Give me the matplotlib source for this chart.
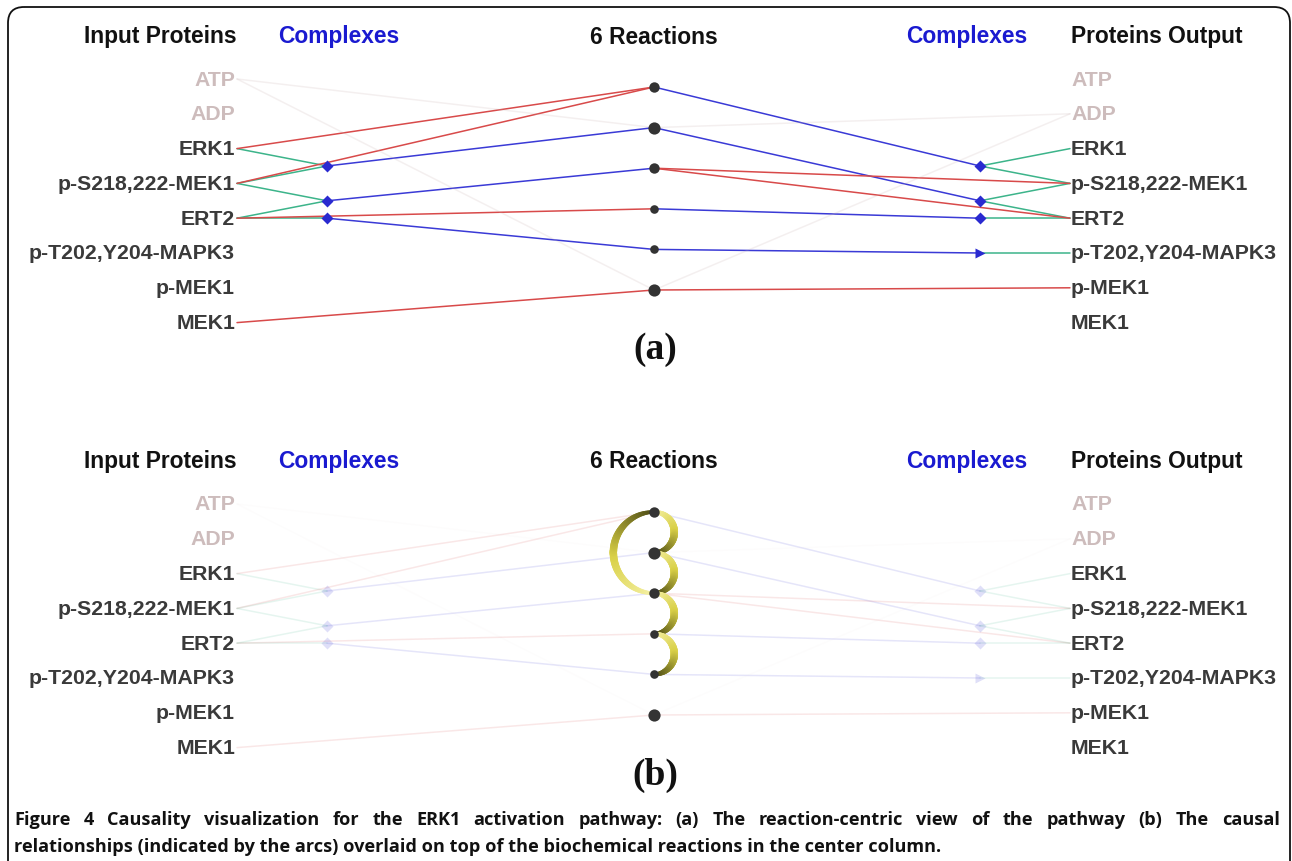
import numpy as np
import matplotlib.pyplot as plt
from matplotlib.collections import LineCollection
from matplotlib.patches import FancyBboxPatch
from matplotlib.colors import LinearSegmentedColormap

# --- data -------------------------------------------------------------
proteins = ["ATP", "ADP", "ERK1", "p-S218,222-MEK1", "ERT2",
            "p-T202,Y204-MAPK3", "p-MEK1", "MEK1"]
small_molecules = ["ATP", "ADP"]
headers = ["Input Proteins", "Complexes", "6 Reactions", "Complexes", "Proteins Output"]
panel_tags = ["(a)", "(b)"]

# complexes: member proteins
left_complexes = [["ERK1", "p-S218,222-MEK1"], ["p-S218,222-MEK1", "ERT2"], ["ERT2"]]
right_complexes = [["ERK1", "p-S218,222-MEK1"], ["p-S218,222-MEK1", "ERT2"], ["ERT2"],
                   ["p-T202,Y204-MAPK3"]]
right_arrow_complex = 3

# reactions (6): inputs / outputs
react_in_prot = [["ERK1", "p-S218,222-MEK1"], ["ATP"], [], ["ERT2"], [], ["MEK1", "ATP"]]
react_in_cpx = [[], [0], [1], [], [2], []]
react_out_prot = [[], ["ADP"], ["p-S218,222-MEK1", "ERT2"], [], [], ["p-MEK1", "ADP"]]
react_out_cpx = [[0], [1], [], [2], [3], []]

# causal arcs between reactions (source, target)
causal_arcs = [(0, 1), (1, 2), (2, 3), (3, 4), (2, 0)]

caption_1 = ("Figure 4 Causality visualization for the ERK1 activation pathway: (a) The "
             "reaction-centric view of the pathway (b) The causal")
caption_2 = ("relationships (indicated by the arcs) overlaid on top of the biochemical reactions "
             "in the center column.")

# --- layout -----------------------------------------------------------
W, H = 1292, 862
X_IN, X_LC, X_RX, X_RC, X_OUT = 236, 327, 654, 980, 1070
ROW0, DROW = 80, 34.8
RX0, DRX = 88, 40.6
HEAD_Y = 36
OFFSETS = [0, 425]

RED = "#d84a4a"
BLUE = "#3a3ad6"
GREEN = "#3cb48a"
FAINT = "#c9b3b3"
DIAMOND = "#2a2ad0"
DOT = "#333333"
LABEL = "#3a3a3a"
LABEL_FADED = "#cdbcbc"

fig = plt.figure(figsize=(12.92, 8.62), dpi=100)
ax = fig.add_axes([0, 0, 1, 1])
ax.set_xlim(0, W)
ax.set_ylim(H, 0)
ax.axis("off")

sans = ["Liberation Sans", "DejaVu Sans"]


def prot_y(name, off):
    return off + ROW0 + DROW * proteins.index(name)


def cpx_y(members, off):
    return np.mean([prot_y(m, off) for m in members])


def rx_y(i, off):
    return off + RX0 + DRX * i


def line(x0, y0, x1, y1, color, alpha=1.0, lw=1.1, z=2):
    ax.plot([x0, x1], [y0, y1], color=color, alpha=alpha, lw=lw,
            solid_capstyle="round", zorder=z)


def draw_panel(k, faded):
    off = OFFSETS[k]
    ea = 0.13 if faded else 1.0

    # headers
    hx = [X_IN, 339, X_RX, 967, X_OUT + 1]
    ha = ["right", "center", "center", "center", "left"]
    hc = ["#111111", "#1a1ad0", "#111111", "#1a1ad0", "#111111"]
    for txt, x, a, c in zip(headers, hx, ha, hc):
        ax.text(x, off + HEAD_Y + 1, txt, ha=a, va="center", fontsize=16.4,
                fontweight="bold", color=c, family=sans)

    # protein labels
    for p in proteins:
        c = LABEL_FADED if p in small_molecules else LABEL
        ax.text(X_IN - 1, prot_y(p, off), p, ha="right", va="center", fontsize=15.3,
                fontweight="bold", color=c, family=sans)
        ax.text(X_OUT + 1, prot_y(p, off), p, ha="left", va="center", fontsize=15.3,
                fontweight="bold", color=c, family=sans)

    # protein -> left complex (green), complex -> right protein (green)
    for members in left_complexes:
        yc = cpx_y(members, off)
        for m in members:
            line(X_IN + 1, prot_y(m, off), X_LC, yc, GREEN, ea)
    for members in right_complexes:
        yc = cpx_y(members, off)
        for m in members:
            line(X_RC, yc, X_OUT, prot_y(m, off), GREEN, ea)

    # reactions
    for i in range(len(react_in_prot)):
        yr = rx_y(i, off)
        for p in react_in_prot[i]:
            sm = p in small_molecules
            line(X_IN + 1, prot_y(p, off), X_RX, yr, FAINT if sm else RED,
                 (0.2 if sm else 1.0) * ea)
        for c in react_in_cpx[i]:
            line(X_LC, cpx_y(left_complexes[c], off), X_RX, yr, BLUE, ea)
        for p in react_out_prot[i]:
            sm = p in small_molecules
            line(X_RX, yr, X_OUT, prot_y(p, off), FAINT if sm else RED,
                 (0.2 if sm else 1.0) * ea)
        for c in react_out_cpx[i]:
            line(X_RX, yr, X_RC, cpx_y(right_complexes[c], off), BLUE, ea)

    # complex nodes
    da = 0.15 if faded else 1.0
    for members in left_complexes:
        ax.plot(X_LC, cpx_y(members, off), marker="D", ms=6.5, color=DIAMOND,
                mec="none", alpha=da, zorder=4)
    for j, members in enumerate(right_complexes):
        mk = ">" if j == right_arrow_complex else "D"
        ax.plot(X_RC, cpx_y(members, off), marker=mk, ms=7 if mk == ">" else 6.5,
                color=DIAMOND, mec="none", alpha=da, zorder=4)

    # reaction nodes, size by number of participants
    for i in range(len(react_in_prot)):
        deg = (len(react_in_prot[i]) + len(react_in_cpx[i]) +
               len(react_out_prot[i]) + len(react_out_cpx[i]))
        d_px = 5 + 1.8 * deg
        ax.plot(X_RX, rx_y(i, off), "o", ms=d_px * 0.72, color=DOT, mec="none", zorder=6)

    ax.text(X_RX + 1, off + 350, panel_tags[k], ha="center", va="center", fontsize=27,
            fontweight="bold", family=["Liberation Serif", "DejaVu Serif"], color="#111111")


draw_panel(0, False)
draw_panel(1, True)

# causal arcs in panel (b)
arc_cmap = LinearSegmentedColormap.from_list("arc", ["#f6f2a8", "#d9d046", "#4f4e16"])
off = OFFSETS[1]
for s, t in causal_arcs:
    ys, yt = rx_y(s, off), rx_y(t, off)
    yc, r = (ys + yt) / 2, abs(yt - ys) / 2
    th0 = -90 if yt > ys else 90
    th = np.radians(np.linspace(th0, th0 + 180, 80))
    xs = X_RX + r * np.cos(th)
    ys_ = yc + r * np.sin(th)
    pts = np.column_stack([xs, ys_]).reshape(-1, 1, 2)
    segs = np.concatenate([pts[:-1], pts[1:]], axis=1)
    u = np.linspace(0, 1, len(segs))
    lc = LineCollection(segs, colors=arc_cmap(u), linewidths=2.4 + 3.0 * np.sin(np.pi * u),
                        capstyle="round", zorder=5)
    ax.add_collection(lc)

# frame
frame = FancyBboxPatch((8, 8), W - 10, H + 40, boxstyle="round,pad=0,rounding_size=16",
                       fill=False, ec="#111111", lw=1.3, clip_on=True, zorder=10)
ax.add_patch(frame)

# caption (bold, first line justified)
cap = ["Open Sans", "DejaVu Sans"]
CAP_FS = 13.1
X0, X1 = 14, 1280
words = caption_1.split()
renderer = fig.canvas.get_renderer()
widths = []
for w_ in words:
    t = ax.text(0, 0, w_, fontsize=CAP_FS, fontweight="bold", family=cap)
    bb = t.get_window_extent(renderer)
    widths.append(bb.width)
    t.remove()
gap = (X1 - X0 - sum(widths)) / (len(words) - 1)
x = X0
for w_, wd in zip(words, widths):
    ax.text(x, 820, w_, ha="left", va="center", fontsize=CAP_FS, fontweight="bold",
            family=cap, color="#111111")
    x += wd + gap
ax.text(X0, 847, caption_2, ha="left", va="center", fontsize=CAP_FS, fontweight="bold",
        family=cap, color="#111111")

fig.savefig("out.png", dpi=100)
